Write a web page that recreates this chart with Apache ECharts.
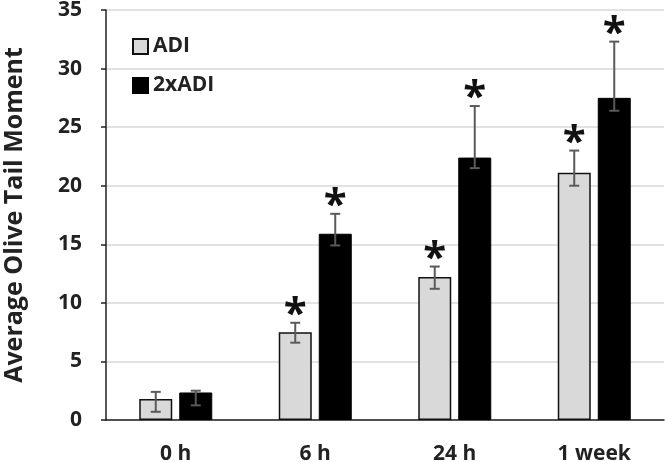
<!DOCTYPE html>
<html>
<head>
<meta charset="utf-8">
<script src="https://cdn.jsdelivr.net/npm/echarts@6/dist/echarts.min.js"></script>
<style>html,body{margin:0;padding:0;background:#fff;}#c{width:665px;height:462px;}</style>
</head>
<body>
<div id="c"></div>
<script>
var categories = ['0 h', '6 h', '24 h', '1 week'];
var seriesNames = ['ADI', '2xADI'];
var adiValues = [1.8, 7.5, 12.2, 21.1];
var adiErrPlus = [0.6, 0.8, 0.9, 1.9];
var adiErrMinus = [1.1, 0.9, 1.0, 1.1];
var adiStars = [false, true, true, true];
var adi2Values = [2.35, 15.9, 22.4, 27.5];
var adi2ErrPlus = [0.15, 1.7, 4.4, 4.8];
var adi2ErrMinus = [1.1, 1.0, 0.9, 1.1];
var adi2Stars = [false, true, true, true];
var yTicks = [0, 5, 10, 15, 20, 25, 30, 35];

var FONT = '"Open Sans", "Liberation Sans", sans-serif';
var BAR_W = 33, BAR_GAP = 7;

function errData(vals, plus, minus, stars) {
  return vals.map(function (v, i) { return [i, v, v + plus[i], v - minus[i], stars[i] ? 1 : 0]; });
}

function errSeries(name, data, dir) {
  return {
    type: 'custom',
    name: name + ' err',
    data: data,
    z: 10,
    renderItem: function (params, api) {
      var i = api.value(0);
      var off = dir * (BAR_W / 2 + BAR_GAP / 2);
      var top = api.coord([i, api.value(2)]);
      var bot = api.coord([i, api.value(3)]);
      var x = top[0] + off;
      var cap = 5;
      var st = { stroke: '#5a5a5a', lineWidth: 2 };
      var children = [
        { type: 'line', shape: { x1: x, y1: top[1], x2: x, y2: bot[1] }, style: st },
        { type: 'line', shape: { x1: x - cap, y1: top[1], x2: x + cap, y2: top[1] }, style: st },
        { type: 'line', shape: { x1: x - cap, y1: bot[1], x2: x + cap, y2: bot[1] }, style: st }
      ];
      if (api.value(4)) {
        children.push({
          type: 'text',
          style: {
            text: '*', x: x, y: top[1] + 13,
            font: 'bold 42px ' + FONT, fill: '#111',
            align: 'center', verticalAlign: 'bottom'
          }
        });
      }
      return { type: 'group', children: children };
    }
  };
}

var chart = echarts.init(document.getElementById('c'));
chart.setOption({
  animation: false,
  backgroundColor: '#fff',
  grid: { left: 106, right: 1, top: 10, bottom: 42, outerBoundsMode: 'none', containLabel: false },
  legend: {
    data: seriesNames,
    orient: 'vertical',
    left: 127, top: 31,
    itemWidth: 15, itemHeight: 15, itemGap: 18,
    icon: 'rect',
    textStyle: { fontFamily: FONT, fontWeight: 'bold', fontSize: 21, color: '#222' }
  },
  xAxis: {
    type: 'category',
    data: categories,
    axisLine: { lineStyle: { color: '#222', width: 1.5 } },
    axisTick: { show: false },
    axisLabel: { fontFamily: FONT, fontWeight: 'bold', fontSize: 21, color: '#222', margin: 24 }
  },
  yAxis: {
    type: 'value',
    min: yTicks[0], max: yTicks[yTicks.length - 1], interval: 5,
    name: 'Average Olive Tail Moment',
    nameLocation: 'middle', nameGap: 79,
    nameTextStyle: { fontFamily: FONT, fontWeight: 'bold', fontSize: 25, color: '#222' },
    axisLine: { show: true, lineStyle: { color: '#222', width: 1.5 } },
    axisTick: { show: true, length: 5, lineStyle: { color: '#222', width: 1.5 } },
    axisLabel: { fontFamily: FONT, fontWeight: 'bold', fontSize: 21, color: '#222', margin: 24 },
    splitLine: { lineStyle: { color: '#d9d9d9', width: 1.5 } }
  },
  series: [
    {
      type: 'bar', name: seriesNames[0], data: adiValues,
      barWidth: BAR_W, barGap: (BAR_GAP / BAR_W * 100) + '%',
      itemStyle: { color: '#d9d9d9', borderColor: '#111', borderWidth: 1.5 }
    },
    {
      type: 'bar', name: seriesNames[1], data: adi2Values,
      barWidth: BAR_W,
      itemStyle: { color: '#000', borderColor: '#000', borderWidth: 1 }
    },
    errSeries(seriesNames[0], errData(adiValues, adiErrPlus, adiErrMinus, adiStars), -1),
    errSeries(seriesNames[1], errData(adi2Values, adi2ErrPlus, adi2ErrMinus, adi2Stars), 1)
  ]
});
</script>
</body>
</html>
